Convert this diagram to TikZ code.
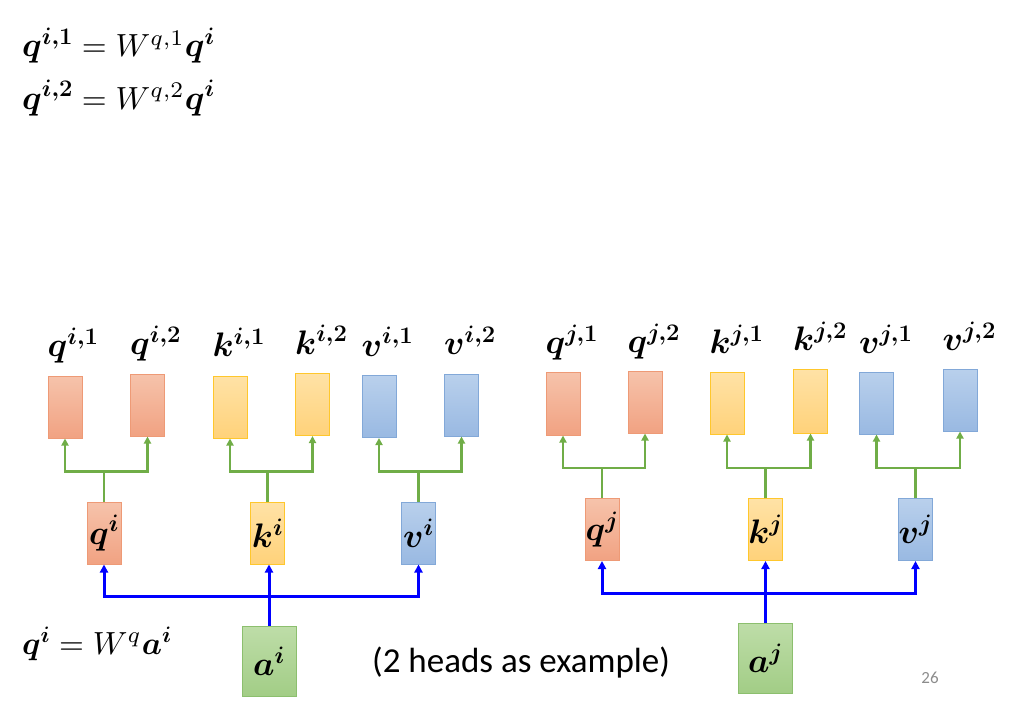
\RequirePackage{fix-cm}
\documentclass[tikz,border=0pt]{standalone}
\usepackage{amsmath}
\usepackage{fontspec}
\newfontfamily\calibri{Carlito}
\usetikzlibrary{arrows.meta}
\definecolor{qtop}{HTML}{F6C3AB}
\definecolor{qbot}{HTML}{F1A282}
\definecolor{qdraw}{HTML}{EE9A76}
\definecolor{ktop}{HTML}{FFE2A6}
\definecolor{kbot}{HTML}{FFD27A}
\definecolor{kdraw}{HTML}{FFC72C}
\definecolor{vtop}{HTML}{B9D0EC}
\definecolor{vbot}{HTML}{99B9E2}
\definecolor{vdraw}{HTML}{82A8D8}
\definecolor{atop}{HTML}{BEDDA8}
\definecolor{abot}{HTML}{A2CD86}
\definecolor{adraw}{HTML}{8CBF6E}
\definecolor{gline}{HTML}{70AD47}
\definecolor{pagenum}{HTML}{8C8C8C}
\newcommand{\bigpart}[1]{{\fontsize{34}{40}\selectfont$\boldsymbol{#1}$}}
\newcommand{\midpart}[1]{{\fontsize{32}{38}\selectfont$\boldsymbol{#1}$}}
\newcommand{\wpart}[1]{{\fontsize{10}{12}\selectfont\scalebox{3.2}{${}={}#1$}}}
\tikzset{
  cell/.style={minimum width=34pt, minimum height=62pt, inner sep=0pt, line width=1pt},
  qcell/.style={cell, draw=qdraw, top color=qtop, bottom color=qbot},
  kcell/.style={cell, draw=kdraw, top color=ktop, bottom color=kbot},
  vcell/.style={cell, draw=vdraw, top color=vtop, bottom color=vbot},
  acell/.style={cell, minimum width=54pt, minimum height=70pt, draw=adraw, top color=atop, bottom color=abot},
  toplab/.style={anchor=base west, inner sep=0pt, font=\fontsize{34}{40}\selectfont},
  inlab/.style={font=\fontsize{34}{40}\selectfont},
  eqtext/.style={anchor=base west, inner sep=0pt},
  garrow/.style={draw=gline, line width=2.5pt, {Triangle[length=7pt,width=7pt]}-{Triangle[length=7pt,width=7pt]}},
  gstem/.style={draw=gline, line width=2.5pt},
  barrow2/.style={draw=blue, line width=3pt, {Triangle[length=8pt,width=8pt]}-{Triangle[length=8pt,width=8pt]}},
  barrow1/.style={draw=blue, line width=3pt, -{Triangle[length=8pt,width=8pt]}}
}
\begin{document}
\begin{tikzpicture}[x=1pt,y=-1pt]
\useasboundingbox (0,0) rectangle (1009,701);

% equations
\node[eqtext] (eq1) at (22,57) {\bigpart{q^{i,1}}\wpart{W^{q,1}}\bigpart{q^{i}}};
\node[eqtext] (eq2) at (22,109) {\bigpart{q^{i,2}}\wpart{W^{q,2}}\bigpart{q^{i}}};
\node[eqtext] (eq3) at (22,654) {\midpart{q^{i}}\wpart{W^{q}}\midpart{a^{i}}};

% ---------- left group ----------
\node[qcell] (qi1) at (65,407) {};
\node[qcell] (qi2) at (147.5,405) {};
\node[kcell] (ki1) at (230,407) {};
\node[kcell] (ki2) at (312.5,404.5) {};
\node[vcell] (vi1) at (379,406.5) {};
\node[vcell] (vi2) at (461.5,405) {};
\node[toplab] (lqi1) at ([yshift=19pt]qi1.north west) {$\boldsymbol{q^{i,1}}$};
\node[toplab] (lqi2) at ([yshift=19pt]qi2.north west) {$\boldsymbol{q^{i,2}}$};
\node[toplab] (lki1) at ([yshift=19pt]ki1.north west) {$\boldsymbol{k^{i,1}}$};
\node[toplab] (lki2) at ([yshift=19pt]ki2.north west) {$\boldsymbol{k^{i,2}}$};
\node[toplab] (lvi1) at ([yshift=19pt]vi1.north west) {$\boldsymbol{v^{i,1}}$};
\node[toplab] (lvi2) at ([yshift=19pt]vi2.north west) {$\boldsymbol{v^{i,2}}$};

\node[qcell,inlab] (qi) at (104,533) {$\boldsymbol{q^{i}}$};
\node[kcell,inlab] (ki) at (267.5,533) {$\boldsymbol{k^{i}}$};
\node[vcell,inlab] (vi) at (418.5,533) {$\boldsymbol{v^{i}}$};
\node[acell,inlab] (ai) at (269,661) {$\boldsymbol{a^{i}}$};

\path (qi.north) ++(0,-30) coordinate (tqi);
\path (ki.north) ++(0,-30) coordinate (tki);
\path (vi.north) ++(0,-30) coordinate (tvi);
\draw[garrow] (qi1.south) -- (tqi -| qi1) -- (tqi -| qi2) -- (qi2.south);
\draw[gstem] (qi.north) -- (tqi);
\draw[garrow] (ki1.south) -- (tki -| ki1) -- (tki -| ki2) -- (ki2.south);
\draw[gstem] (ki.north) -- (tki);
\draw[garrow] (vi1.south) -- (tvi -| vi1) -- (tvi -| vi2) -- (vi2.south);
\draw[gstem] (vi.north) -- (tvi);

\path (ai.north) ++(0,-29) coordinate (bi);
\draw[barrow2] (qi.south) -- (bi -| qi) -- (bi -| vi) -- (vi.south);
\draw[barrow1] (ai.north) -- (ai.north |- ki.south);

% ---------- right group ----------
\node[qcell,minimum height=63pt] (qj1) at (563,403.5) {};
\node[qcell] (qj2) at (645,402) {};
\node[kcell] (kj1) at (727,403) {};
\node[kcell,minimum height=64pt] (kj2) at (810.5,401) {};
\node[vcell] (vj1) at (876.5,403) {};
\node[vcell] (vj2) at (960,400) {};
\node[toplab] (lqj1) at ([yshift=18pt]qj1.north west) {$\boldsymbol{q^{j,1}}$};
\node[toplab] (lqj2) at ([yshift=18pt]qj2.north west) {$\boldsymbol{q^{j,2}}$};
\node[toplab] (lkj1) at ([yshift=18pt]kj1.north west) {$\boldsymbol{k^{j,1}}$};
\node[toplab] (lkj2) at ([yshift=18pt]kj2.north west) {$\boldsymbol{k^{j,2}}$};
\node[toplab] (lvj1) at ([yshift=18pt]vj1.north west) {$\boldsymbol{v^{j,1}}$};
\node[toplab] (lvj2) at ([yshift=18pt]vj2.north west) {$\boldsymbol{v^{j,2}}$};

\node[qcell,inlab] (qj) at (602,529.5) {$\boldsymbol{q^{j}}$};
\node[kcell,inlab] (kj) at (765.5,529.5) {$\boldsymbol{k^{j}}$};
\node[vcell,inlab] (vj) at (915.5,529.5) {$\boldsymbol{v^{j}}$};
\node[acell,inlab] (aj) at (765.5,658) {$\boldsymbol{a^{j}}$};

\path (qj.north) ++(0,-30) coordinate (tqj);
\path (kj.north) ++(0,-30) coordinate (tkj);
\path (vj.north) ++(0,-30) coordinate (tvj);
\draw[garrow] (qj1.south) -- (tqj -| qj1) -- (tqj -| qj2) -- (qj2.south);
\draw[gstem] (qj.north) -- (tqj);
\draw[garrow] (kj1.south) -- (tkj -| kj1) -- (tkj -| kj2) -- (kj2.south);
\draw[gstem] (kj.north) -- (tkj);
\draw[garrow] (vj1.south) -- (tvj -| vj1) -- (tvj -| vj2) -- (vj2.south);
\draw[gstem] (vj.north) -- (tvj);

\path (aj.north) ++(0,-29) coordinate (bj);
\draw[barrow2] (qj.south) -- (bj -| qj) -- (bj -| vj) -- (vj.south);
\draw[barrow1] (aj.north) -- (aj.north |- kj.south);

% ---------- texts ----------
\node[anchor=base west, inner sep=0pt, font=\calibri\fontsize{35}{42}\selectfont] (note) at (372,672) {(2 heads as example)};
\node[inner sep=0pt, text=pagenum, font=\calibri\fontsize{17}{20}\selectfont] (pg) at (930,678) {26};
\end{tikzpicture}
\end{document}
